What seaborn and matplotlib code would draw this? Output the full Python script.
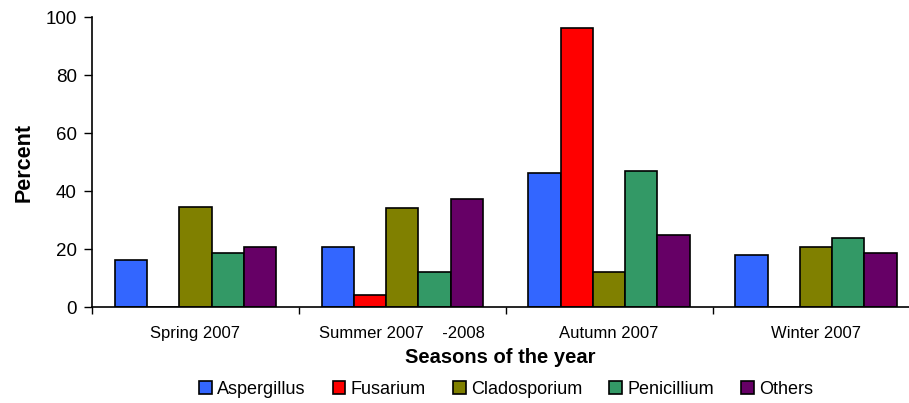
import pandas as pd
import numpy as np
import matplotlib.pyplot as plt
import seaborn as sns

seasons = ["Spring 2007", "Summer 2007    -2008", "Autumn 2007", "Winter 2007"]
fungi = ["Aspergillus", "Fusarium", "Cladosporium", "Penicillium", "Others"]
aspergillus = [16.2, 20.7, 46.3, 18.0]
fusarium = [0, 4.0, 96.3, 0]
cladosporium = [34.5, 34.0, 12.0, 20.7]
penicillium = [18.5, 12.0, 47.0, 23.8]
others = [20.7, 37.2, 25.0, 18.5]
colors = ["#3366FF", "#FF0000", "#808000", "#339966", "#660066"]

values = [aspergillus, fusarium, cladosporium, penicillium, others]
df = pd.DataFrame({
    "season": np.repeat([seasons], len(fungi), axis=0).ravel(),
    "fungus": np.repeat(fungi, len(seasons)),
    "percent": np.concatenate(values),
})

sns.set_style("white")
plt.rcParams['font.family'] = ['Liberation Sans', 'DejaVu Sans']
plt.rcParams['text.color'] = 'black'
plt.rcParams['axes.labelcolor'] = 'black'
plt.rcParams['xtick.color'] = 'black'
plt.rcParams['ytick.color'] = 'black'

fig = plt.figure(figsize=(9.09, 4.03), dpi=100)
ax = fig.add_axes([92 / 909, 1 - 307 / 403, 1 - 92 / 909, 290 / 403])

sns.barplot(data=df, x="season", y="percent", hue="fungus", order=seasons,
            hue_order=fungi, palette=colors, width=0.78, edgecolor="black",
            linewidth=1.2, saturation=1, ax=ax)

ax.set_ylim(0, 100)
ax.set_xlim(-0.5, 3.45)
ax.set_yticks([0, 20, 40, 60, 80, 100])
ax.tick_params(axis="y", labelsize=13.5, length=6, width=1, direction="out", left=True, pad=5)
ax.tick_params(axis="x", which="major", length=0, labelsize=12, pad=14)
ax.set_xticks([-0.5, 0.5, 1.5, 2.5], minor=True)
ax.tick_params(axis="x", which="minor", length=5, width=1, bottom=True, direction="out")
for side in ["top", "right"]:
    ax.spines[side].set_visible(False)
for side in ["left", "bottom"]:
    ax.spines[side].set_color("black")
    ax.spines[side].set_linewidth(1.2)

ax.set_ylabel("Percent", fontsize=15.5, fontweight="bold", labelpad=8)
ax.set_xlabel("Seasons of the year", fontsize=14.5, fontweight="bold", labelpad=5)

ax.legend(loc="upper center", bbox_to_anchor=(0.507, -0.23), ncol=5, frameon=False,
          fontsize=13, handlelength=0.7, handleheight=0.7, handletextpad=0.3,
          columnspacing=1.5, borderaxespad=0)

fig.savefig("out.png", dpi=100)
